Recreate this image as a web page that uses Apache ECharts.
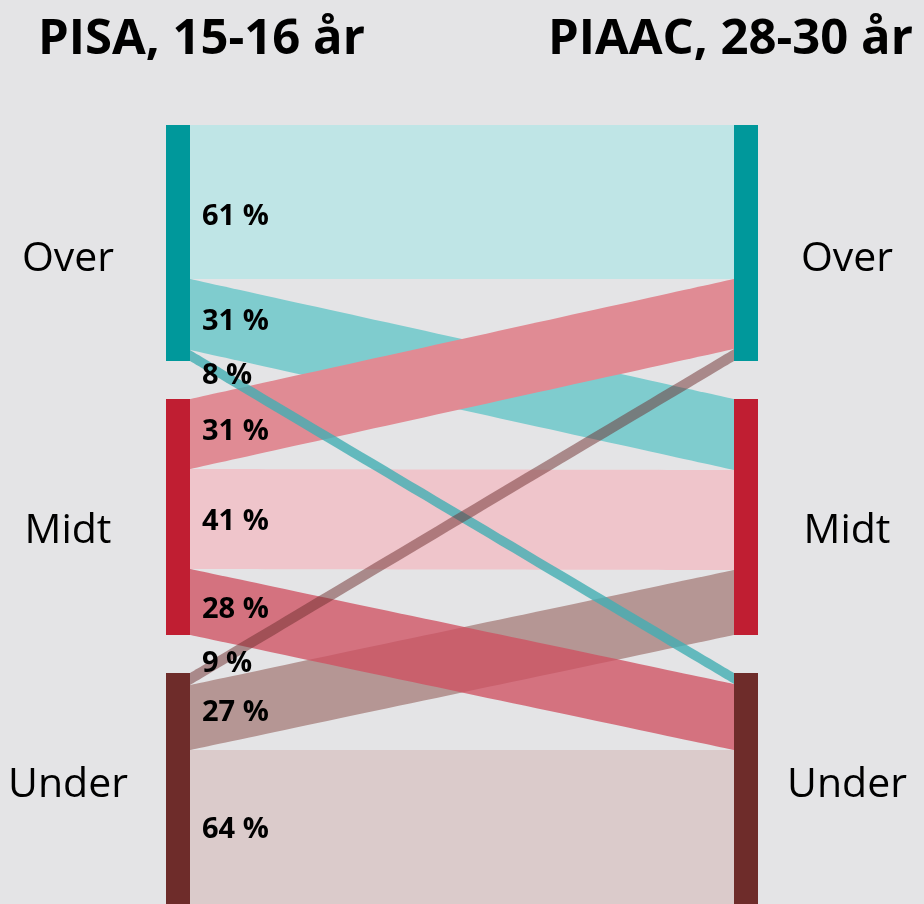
<!DOCTYPE html>
<html>
<head>
<meta charset="utf-8">
<script src="https://cdn.jsdelivr.net/npm/echarts@6/dist/echarts.min.js"></script>
<style>
html, body { margin: 0; padding: 0; background: #e4e4e6; }
#chart { width: 924px; height: 904px; }
</style>
</head>
<body>
<div id="chart"></div>
<script>
// nivåer (samme i begge kolonner)
var levels = ['Over', 'Midt', 'Under'];
var titles = ['PISA, 15-16 år', 'PIAAC, 28-30 år'];
// strøm fra PISA-nivå til PIAAC Over / Midt / Under (avlest båndbredde)
var flowOver = [154, 71, 11];
var flowMidt = [70, 100, 66];
var flowUnder = [12, 65, 159];
// prosent som står i båndene
var pctOver = [61, 31, 8];
var pctMidt = [31, 41, 28];
var pctUnder = [9, 27, 64];

var FONT = '"Open Sans", "Noto Sans", sans-serif';
var nodeColors = ['#00989b', '#c01e32', '#6e2c2a'];
var linkColors = [
    ['#bfe5e6', '#7fccce', 'rgba(66,174,179,0.8)'],
    ['#e08b94', '#efc5cb', 'rgba(207,80,96,0.77)'],
    ['rgba(110,45,45,0.5)', '#b59694', '#dbcbcb']
];
// tegnerekkefølge (kilde, mål) - kryssende bånd sist
var drawOrder = [[0, 0], [0, 1], [1, 1], [2, 1], [2, 2], [1, 0], [1, 2], [0, 2], [2, 0]];
// små justeringer av prosentteksten i forhold til båndets midte
var pctShift = [[15, 7, 20], [-2, 3, 8], [-15, -5, 0]];
var labelShift = [16, 14, -6];

var flows = [flowOver, flowMidt, flowUnder];
var pcts = [pctOver, pctMidt, pctUnder];

var nodes = [];
levels.forEach(function (name, i) {
    nodes.push({
        name: 'L' + name, depth: 0,
        itemStyle: {color: nodeColors[i]},
        label: {position: [-98, '50%'], offset: [0, labelShift[i]]}
    });
});
levels.forEach(function (name, i) {
    nodes.push({
        name: 'R' + name, depth: 1,
        itemStyle: {color: nodeColors[i]},
        label: {position: [113, '50%'], offset: [0, labelShift[i]]}
    });
});

var links = [], linkInfo = [];
drawOrder.forEach(function (p) {
    links.push({
        source: 'L' + levels[p[0]],
        target: 'R' + levels[p[1]],
        value: flows[p[0]][p[1]],
        lineStyle: {color: linkColors[p[0]][p[1]], opacity: 1}
    });
    linkInfo.push({s: p[0], t: p[1]});
});

var chart = echarts.init(document.getElementById('chart'));
chart.setOption({
    backgroundColor: '#e4e4e6',
    animation: false,
    series: [{
        type: 'sankey',
        left: 166,
        right: 166,
        top: 125,
        height: 784,
        nodeWidth: 24,
        nodeGap: 38,
        layoutIterations: 0,
        draggable: false,
        emphasis: {disabled: true},
        itemStyle: {borderWidth: 0},
        lineStyle: {curveness: 0, opacity: 1},
        label: {
            show: true,
            color: '#000',
            fontFamily: FONT,
            fontSize: 41,
            align: 'center',
            verticalAlign: 'middle',
            formatter: function (p) { return p.name.slice(1); }
        },
        data: nodes,
        links: links
    }]
});

// prosentetiketter plassert ut fra sankey-layouten
var series = chart.getModel().getSeriesByIndex(0);
var box = series.layoutInfo || {x: 166, y: 125};
var graphic = [
    {type: 'text', x: 38, y: 40, style: {text: titles[0], font: 'bold 49px ' + FONT, fill: '#000', verticalAlign: 'middle'}},
    {type: 'text', x: 548, y: 40, style: {text: titles[1], font: 'bold 49px ' + FONT, fill: '#000', verticalAlign: 'middle'}}
];
series.getGraph().eachEdge(function (edge) {
    var info = linkInfo[edge.dataIndex];
    var nl = edge.node1.getLayout(), el = edge.getLayout();
    var y = box.y + nl.y + el.sy + el.dy / 2 + pctShift[info.s][info.t];
    graphic.push({
        type: 'text',
        x: box.x + nl.x + nl.dx + 12,
        y: y,
        z: 100,
        style: {text: pcts[info.s][info.t] + ' %', font: 'bold 29px ' + FONT, fill: '#000', verticalAlign: 'middle'}
    });
});
chart.setOption({graphic: graphic});
</script>
</body>
</html>
